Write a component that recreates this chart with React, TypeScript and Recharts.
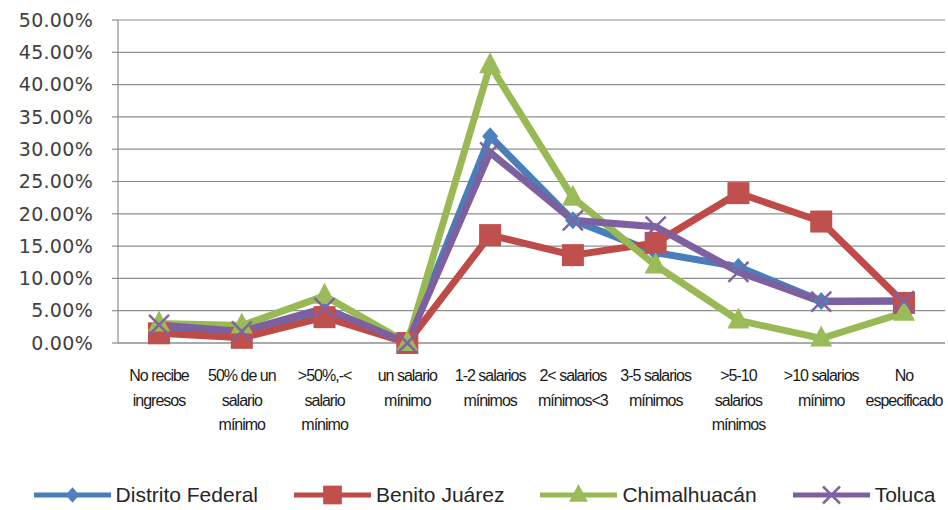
import React from 'react';
import { LineChart, Line, XAxis, YAxis, CartesianGrid, Legend } from 'recharts';

// category labels, one entry per line of text
const categories: string[][] = [
  ['No recibe', 'ingresos'],
  ['50% de un', 'salario', 'mínimo'],
  ['>50%,-<', 'salario', 'mínimo'],
  ['un salario', 'mínimo'],
  ['1-2 salarios', 'mínimos'],
  ['2< salarios', 'mínimos<3'],
  ['3-5 salarios', 'mínimos'],
  ['>5-10', 'salarios', 'mínimos'],
  ['>10 salarios', 'mínimo'],
  ['No', 'especificado'],
];

const distritoFederal = [2.5, 1.5, 5, 0, 32, 19, 14, 11.8, 6.5, 6.5];
const benitoJuarez = [1.5, 0.8, 4, 0, 16.7, 13.6, 15.5, 23.2, 18.8, 6.2];
const chimalhuacan = [3, 2.7, 7.3, 0, 43, 22.5, 12, 3.5, 0.7, 4.7];
const toluca = [2.8, 1.8, 5.4, 0, 29.5, 19, 18, 11, 6.4, 6.5];

const yTicks = [0, 5, 10, 15, 20, 25, 30, 35, 40, 45, 50];

const series = [
  { key: 'df', name: 'Distrito Federal', line: '#4A7EBB', fill: '#4F81BD', shape: 'diamond' },
  { key: 'bj', name: 'Benito Juárez', line: '#BE4B48', fill: '#C0504D', shape: 'square' },
  { key: 'ch', name: 'Chimalhuacán', line: '#98B954', fill: '#9BBB59', shape: 'triangle' },
  { key: 'to', name: 'Toluca', line: '#7D60A0', fill: '#8064A2', shape: 'x' },
];

const data = categories.map((c, i) => ({
  cat: c.join(' '),
  df: distritoFederal[i],
  bj: benitoJuarez[i],
  ch: chimalhuacan[i],
  to: toluca[i],
}));

const Marker = ({ shape, cx, cy, color, s = 1 }: { shape: string; cx: number; cy: number; color: string; s?: number }) => {
  if (shape === 'diamond') {
    return <polygon points={`${cx},${cy - 9 * s} ${cx + 8 * s},${cy} ${cx},${cy + 9 * s} ${cx - 8 * s},${cy}`} fill={color} />;
  }
  if (shape === 'square') {
    return <rect x={cx - 11 * s} y={cy - 11 * s} width={22 * s} height={22 * s} fill={color} />;
  }
  if (shape === 'triangle') {
    return <polygon points={`${cx},${cy - 13 * s} ${cx + 11 * s},${cy + 8 * s} ${cx - 11 * s},${cy + 8 * s}`} fill={color} />;
  }
  return (
    <g stroke={color} strokeWidth={2.5}>
      <line x1={cx - 10 * s} y1={cy - 10 * s} x2={cx + 10 * s} y2={cy + 10 * s} />
      <line x1={cx - 10 * s} y1={cy + 10 * s} x2={cx + 10 * s} y2={cy - 10 * s} />
    </g>
  );
};

const makeDot = (shape: string, color: string) => (props: any) => {
  const { cx, cy, index } = props;
  if (cx == null || cy == null) return <g key={index} />;
  return (
    <g key={`${shape}-${index}`}>
      <Marker shape={shape} cx={cx} cy={cy} color={color} />
    </g>
  );
};

const CategoryTick = (props: any) => {
  const { x, y, payload } = props;
  const lines = categories[payload.index] || [String(payload.value)];
  return (
    <text
      x={x}
      y={y + 30}
      textAnchor="middle"
      fill="#1a1a1a"
      fontSize={16}
      letterSpacing={-1}
      fontFamily="'Liberation Sans Narrow', 'Liberation Sans', sans-serif"
    >
      {lines.map((l, i) => (
        <tspan key={i} x={x} dy={i === 0 ? 0 : 24.5}>
          {l}
        </tspan>
      ))}
    </text>
  );
};

const LegendContent = () => (
  <div
    style={{
      height: 30,
      display: 'flex',
      justifyContent: 'center',
      alignItems: 'center',
      gap: 36,
      fontFamily: "'Liberation Sans', sans-serif",
      fontSize: 21,
      color: '#262626',
      whiteSpace: 'nowrap',
      paddingLeft: 24,
    }}
  >
    {series.map((s) => (
      <div key={s.key} style={{ display: 'flex', alignItems: 'center' }}>
        <svg width={77} height={26} style={{ marginRight: 5 }}>
          <line x1={0} y1={13} x2={77} y2={13} stroke={s.line} strokeWidth={5} />
          <Marker shape={s.shape} cx={38.5} cy={13} color={s.fill} s={0.85} />
        </svg>
        <span>{s.name}</span>
      </div>
    ))}
  </div>
);

export default function App() {
  return (
    <div style={{ position: 'absolute', left: 0, top: 0, width: 948, height: 510, background: '#fff' }}>
      <LineChart width={948} height={510} data={data} margin={{ top: 20, right: 3, left: 0, bottom: 0 }}>
        <CartesianGrid vertical={false} stroke="#8e8e8e" strokeWidth={1.2} />
        <XAxis
          dataKey="cat"
          interval={0}
          height={137}
          tickLine={false}
          axisLine={{ stroke: '#8e8e8e', strokeWidth: 1.2 }}
          padding={{ left: 41, right: 41 }}
          tick={<CategoryTick />}
        />
        <YAxis
          width={118}
          domain={[0, 50]}
          ticks={yTicks}
          interval={0}
          tickSize={6}
          tickMargin={19}
          axisLine={{ stroke: '#8e8e8e', strokeWidth: 1.2 }}
          tickLine={{ stroke: '#8e8e8e', strokeWidth: 1.2 }}
          tickFormatter={(v: number) => `${v.toFixed(2)}%`}
          tick={{ fontSize: 19, fill: '#404040', fontFamily: "'DejaVu Sans', sans-serif", letterSpacing: 0.3 }}
        />
        <Legend verticalAlign="bottom" content={<LegendContent />} />
        {series.map((s) => (
          <Line
            key={s.key}
            type="linear"
            dataKey={s.key}
            name={s.name}
            stroke={s.line}
            strokeWidth={7}
            dot={makeDot(s.shape, s.fill)}
            activeDot={false}
            isAnimationActive={false}
          />
        ))}
      </LineChart>
    </div>
  );
}
